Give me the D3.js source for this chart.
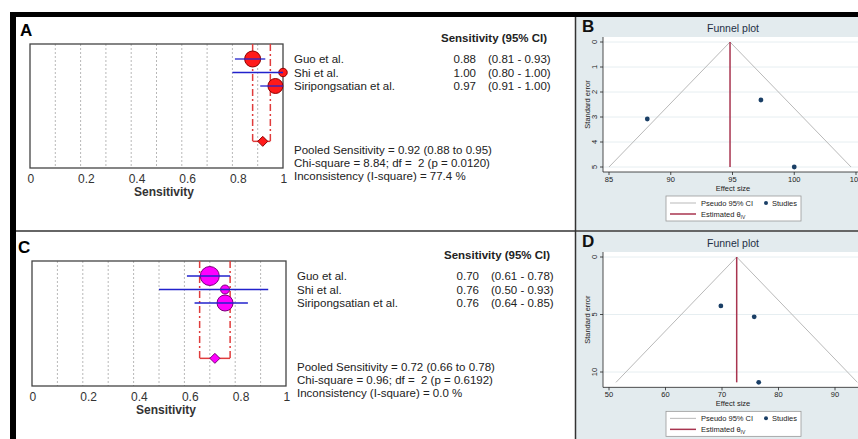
<!DOCTYPE html>
<html>
<head>
<meta charset="utf-8">
<script src="https://cdn.jsdelivr.net/npm/d3@7"></script>
<style>
  body { margin: 0; background: #fff; }
  text { font-family: "Liberation Sans", Arial, sans-serif; white-space: pre; }
</style>
</head>
<body>
<div id="chart"></div>
<script>
// ---- data ----
var studies = ["Guo et al.", "Shi et al.", "Siripongsatian et al."];

// panel A: sensitivity
var sensA = [0.88, 1.00, 0.97];
var lowA = [0.81, 0.80, 0.91];
var highA = [0.93, 1.00, 1.00];
var weightA = [64, 18, 56];
var pooledA = [0.92, 0.88, 0.95];
var statsA = ["Pooled Sensitivity = 0.92 (0.88 to 0.95)",
  "Chi-square = 8.84; df =  2 (p = 0.0120)",
  "Inconsistency (I-square) = 77.4 %"];

// panel C: sensitivity
var sensC = [0.70, 0.76, 0.76];
var lowC = [0.61, 0.50, 0.64];
var highC = [0.78, 0.93, 0.85];
var weightC = [90, 20, 64];
var pooledC = [0.72, 0.66, 0.78];
var statsC = ["Pooled Sensitivity = 0.72 (0.66 to 0.78)",
  "Chi-square = 0.96; df =  2 (p = 0.6192)",
  "Inconsistency (I-square) = 0.0 %"];

var forestTicks = [0, 0.2, 0.4, 0.6, 0.8, 1];
var forestTickLabels = ["0", "0.2", "0.4", "0.6", "0.8", "1"];

// panels B and D: funnel plots (effect size, standard error)
var effectB = [88.1, 100.0, 97.3];
var seB = [3.08, 5.0, 2.32];
var thetaB = 94.8;
var xTicksB = [85, 90, 95, 100, 105];
var yTicksB = [0, 1, 2, 3, 4, 5];

var effectD = [69.8, 76.5, 75.7];
var seD = [4.25, 10.9, 5.2];
var thetaD = 72.6;
var xTicksD = [50, 60, 70, 80, 90];
var yTicksD = [0, 5, 10];

var width = 858, height = 439;

var svg = d3.select("#chart").append("svg")
  .attr("width", width)
  .attr("height", height);

svg.append("rect").attr("width", width).attr("height", height).attr("fill", "#fff");

// right panel backgrounds
var panelBg = "#e3ebee";
svg.append("rect").attr("x", 576).attr("y", 17).attr("width", 282).attr("height", 213).attr("fill", panelBg);
svg.append("rect").attr("x", 576).attr("y", 232).attr("width", 282).attr("height", 207).attr("fill", panelBg);

// frame lines
svg.append("line").attr("x1", 575.5).attr("x2", 575.5).attr("y1", 17).attr("y2", height)
  .attr("stroke", "#333").attr("stroke-width", 1.5);
svg.append("line").attr("x1", 16).attr("x2", width).attr("y1", 231).attr("y2", 231)
  .attr("stroke", "#333").attr("stroke-width", 1.5);
svg.append("rect").attr("x", 10).attr("y", 12).attr("width", width - 10).attr("height", 5).attr("fill", "#000");
svg.append("rect").attr("x", 10).attr("y", 12).attr("width", 6).attr("height", height - 12).attr("fill", "#000");

var rScale = d3.scaleSqrt().domain([0, 100]).range([0, 10]);

function forest(cfg) {
  var g = svg.append("g");
  var x = d3.scaleLinear().domain([0, 1]).range([cfg.left, cfg.right]);
  // row positions: study rows then pooled row
  var y = d3.scaleLinear().domain([0, 1]).range([cfg.top + 15, cfg.top + 28.5]);
  var pooledRow = 6.1;

  g.append("text").attr("x", cfg.labelX).attr("y", cfg.top - 8)
    .attr("font-size", 17).attr("font-weight", "bold").text(cfg.label);

  // dotted grid
  g.selectAll(".grid").data(d3.range(1, 10).map(function(d) { return d / 10; }))
    .enter().append("line")
    .attr("x1", function(d) { return x(d); })
    .attr("x2", function(d) { return x(d); })
    .attr("y1", cfg.top).attr("y2", cfg.bottom)
    .attr("stroke", "#b8b8b8").attr("stroke-dasharray", "2,2");

  g.append("rect").attr("x", cfg.left).attr("y", cfg.top)
    .attr("width", cfg.right - cfg.left).attr("height", cfg.bottom - cfg.top)
    .attr("fill", "none").attr("stroke", "#444").attr("stroke-width", 1.3);

  // pooled CI bracket
  var py = y(pooledRow);
  var red = "#e03c3c";
  [cfg.pooled[1], cfg.pooled[2]].forEach(function(v) {
    g.append("line").attr("x1", x(v)).attr("x2", x(v))
      .attr("y1", cfg.top).attr("y2", py)
      .attr("stroke", red).attr("stroke-width", 1.5)
      .attr("stroke-dasharray", "7,3,2,3");
  });
  g.append("line").attr("x1", x(cfg.pooled[1])).attr("x2", x(cfg.pooled[2]))
    .attr("y1", py).attr("y2", py).attr("stroke", red).attr("stroke-width", 1.5);

  var rows = studies.map(function(s, i) {
    return { name: s, est: cfg.sens[i], lo: cfg.low[i], hi: cfg.high[i], w: cfg.weight[i], i: i };
  });

  g.selectAll(".pt").data(rows).enter().append("circle")
    .attr("cx", function(d) { return x(d.est); })
    .attr("cy", function(d) { return y(d.i); })
    .attr("r", function(d) { return rScale(d.w); })
    .attr("fill", cfg.fill).attr("stroke", cfg.edge).attr("stroke-width", 1);

  g.selectAll(".ci").data(rows).enter().append("line")
    .attr("x1", function(d) { return x(d.lo); })
    .attr("x2", function(d) { return x(d.hi); })
    .attr("y1", function(d) { return y(d.i); })
    .attr("y2", function(d) { return y(d.i); })
    .attr("stroke", "#2222cc").attr("stroke-width", 1.3);

  // pooled diamond
  var px = x(cfg.pooled[0]);
  g.append("path")
    .attr("d", "M" + (px - 5) + "," + py + "L" + px + "," + (py - 5) + "L" + (px + 5) + "," + py + "L" + px + "," + (py + 5) + "Z")
    .attr("fill", cfg.fill).attr("stroke", cfg.edge).attr("stroke-width", 1);

  // axis labels
  g.selectAll(".tick").data(forestTicks).enter().append("text")
    .attr("x", function(d) { return x(d) - 2.5; })
    .attr("y", cfg.bottom + 15)
    .attr("font-size", 12).attr("fill", "#333")
    .text(function(d, i) { return forestTickLabels[i]; });
  g.append("text").attr("x", cfg.left + 134).attr("y", cfg.bottom + 28)
    .attr("text-anchor", "middle").attr("font-size", 12).attr("font-weight", "bold").attr("fill", "#333")
    .text("Sensitivity");

  // right hand text table
  var tx = cfg.right + 11;
  g.append("text").attr("x", cfg.right + 158).attr("y", cfg.top - 2)
    .attr("font-size", 11.5).attr("font-weight", "bold").attr("fill", "#222")
    .text("Sensitivity (95% CI)");
  g.selectAll(".name").data(rows).enter().append("text")
    .attr("x", tx).attr("y", function(d) { return y(d.i) + 4; })
    .attr("font-size", 11.5).attr("fill", "#222")
    .text(function(d) { return d.name; });
  g.selectAll(".val").data(rows).enter().append("text")
    .attr("x", cfg.right + 193).attr("y", function(d) { return y(d.i) + 4; })
    .attr("text-anchor", "end").attr("font-size", 11.5).attr("fill", "#222")
    .text(function(d) { return d.est.toFixed(2); });
  g.selectAll(".civ").data(rows).enter().append("text")
    .attr("x", cfg.right + 205).attr("y", function(d) { return y(d.i) + 4; })
    .attr("font-size", 11.5).attr("fill", "#222")
    .text(function(d) { return "(" + d.lo.toFixed(2) + " - " + d.hi.toFixed(2) + ")"; });
  g.selectAll(".stat").data(cfg.stats).enter().append("text")
    .attr("x", tx).attr("y", function(d, i) { return cfg.top + 110 + i * 13; })
    .attr("font-size", 11.5).attr("fill", "#222")
    .text(function(d) { return d; });
}

forest({ label: "A", labelX: 20, left: 30, right: 283, top: 44, bottom: 168,
  sens: sensA, low: lowA, high: highA, weight: weightA, pooled: pooledA, stats: statsA,
  fill: "#ff1a1a", edge: "#8b0000" });
forest({ label: "C", labelX: 18, left: 32, right: 286, top: 261, bottom: 386,
  sens: sensC, low: lowC, high: highC, weight: weightC, pooled: pooledC, stats: statsC,
  fill: "#ff00ff", edge: "#7a007a" });

function funnel(cfg) {
  var g = svg.append("g");
  var x = d3.scaleLinear().domain(cfg.xDomain).range([609, cfg.xEnd]);
  var y = d3.scaleLinear().domain([0, cfg.yUnit]).range([cfg.top + 5, cfg.top + 5 + cfg.yPx]);
  var maxSe = d3.max(cfg.se);
  var axisY = y(maxSe) + 5;
  var fs = 7.5;

  g.append("text").attr("x", 582).attr("y", cfg.top - 5)
    .attr("font-size", 17).attr("font-weight", "bold").attr("fill", "#111").text(cfg.label);
  g.append("text").attr("x", 733).attr("y", cfg.top - 5)
    .attr("text-anchor", "middle").attr("font-size", 10.5).attr("fill", "#1e2f45").text("Funnel plot");

  g.append("rect").attr("x", 603).attr("y", cfg.top).attr("width", 858 - 603).attr("height", axisY - cfg.top)
    .attr("fill", "#fff");

  g.selectAll(".grid").data(cfg.yTicks).enter().append("line")
    .attr("x1", 603).attr("x2", 858)
    .attr("y1", function(d) { return y(d); }).attr("y2", function(d) { return y(d); })
    .attr("stroke", "#e6eef1").attr("stroke-width", 1);

  // axes
  g.append("line").attr("x1", 603).attr("x2", 858).attr("y1", axisY).attr("y2", axisY).attr("stroke", "#222").attr("stroke-width", 0.8);
  g.append("line").attr("x1", 603).attr("x2", 603).attr("y1", cfg.top).attr("y2", axisY).attr("stroke", "#222").attr("stroke-width", 0.8);

  g.selectAll(".yt").data(cfg.yTicks).enter().append("line")
    .attr("x1", 600).attr("x2", 603)
    .attr("y1", function(d) { return y(d); }).attr("y2", function(d) { return y(d); })
    .attr("stroke", "#222").attr("stroke-width", 0.8);
  g.selectAll(".yl").data(cfg.yTicks).enter().append("text")
    .attr("transform", function(d) { return "translate(597," + y(d) + ") rotate(-90)"; })
    .attr("text-anchor", "middle").attr("font-size", fs).attr("fill", "#222")
    .text(function(d) { return d; });

  g.selectAll(".xt").data(cfg.xTicks).enter().append("line")
    .attr("x1", function(d) { return x(d); }).attr("x2", function(d) { return x(d); })
    .attr("y1", axisY).attr("y2", axisY + 3)
    .attr("stroke", "#222").attr("stroke-width", 0.8);
  g.selectAll(".xl").data(cfg.xTicks).enter().append("text")
    .attr("x", function(d) { return x(d); }).attr("y", axisY + 10)
    .attr("text-anchor", "middle").attr("font-size", fs).attr("fill", "#222")
    .text(function(d) { return d; });

  g.append("text").attr("x", 733).attr("y", axisY + 19)
    .attr("text-anchor", "middle").attr("font-size", fs).attr("fill", "#222").text("Effect size");
  g.append("text")
    .attr("transform", "translate(590," + ((cfg.top + axisY) / 2) + ") rotate(-90)")
    .attr("text-anchor", "middle").attr("font-size", fs).attr("fill", "#222").text("Standard error");

  // pseudo 95% CI
  var funnelLine = d3.line().x(function(d) { return x(d[0]); }).y(function(d) { return y(d[1]); });
  g.append("path")
    .attr("d", funnelLine([[cfg.theta - 1.96 * maxSe, maxSe], [cfg.theta, 0], [cfg.theta + 1.96 * maxSe, maxSe]]))
    .attr("fill", "none").attr("stroke", "#b9b9b9").attr("stroke-width", 1);
  g.append("line").attr("x1", x(cfg.theta)).attr("x2", x(cfg.theta))
    .attr("y1", y(0)).attr("y2", y(maxSe))
    .attr("stroke", "#a8344f").attr("stroke-width", 1.5);

  g.selectAll(".pt").data(cfg.effect).enter().append("circle")
    .attr("cx", function(d) { return x(d); })
    .attr("cy", function(d, i) { return y(cfg.se[i]); })
    .attr("r", 2.4).attr("fill", "#1a3f66");

  // legend
  var ly = axisY + 24;
  g.append("rect").attr("x", 666).attr("y", ly).attr("width", 135).attr("height", 25)
    .attr("fill", "#fff").attr("stroke", "#999").attr("stroke-width", 0.8);
  g.append("line").attr("x1", 670).attr("x2", 696).attr("y1", ly + 7).attr("y2", ly + 7)
    .attr("stroke", "#b9b9b9").attr("stroke-width", 1);
  g.append("text").attr("x", 701).attr("y", ly + 10).attr("font-size", fs).attr("fill", "#222").text("Pseudo 95% CI");
  g.append("circle").attr("cx", 766).attr("cy", ly + 7).attr("r", 2).attr("fill", "#1a3f66");
  g.append("text").attr("x", 772).attr("y", ly + 10).attr("font-size", fs).attr("fill", "#222").text("Studies");
  g.append("line").attr("x1", 670).attr("x2", 696).attr("y1", ly + 18).attr("y2", ly + 18)
    .attr("stroke", "#a8344f").attr("stroke-width", 1.5);
  var t = g.append("text").attr("x", 701).attr("y", ly + 21).attr("font-size", fs).attr("fill", "#222");
  t.append("tspan").text("Estimated \u03B8");
  t.append("tspan").attr("font-size", 5).attr("dy", 2).text("IV");
}

funnel({ label: "B", top: 37, xDomain: [85, 105], xEnd: 856, yUnit: 5, yPx: 125,
  xTicks: xTicksB, yTicks: yTicksB, effect: effectB, se: seB, theta: thetaB });
funnel({ label: "D", top: 252, xDomain: [50, 90], xEnd: 835, yUnit: 10, yPx: 115,
  xTicks: xTicksD, yTicks: yTicksD, effect: effectD, se: seD, theta: thetaD });
</script>
</body>
</html>
